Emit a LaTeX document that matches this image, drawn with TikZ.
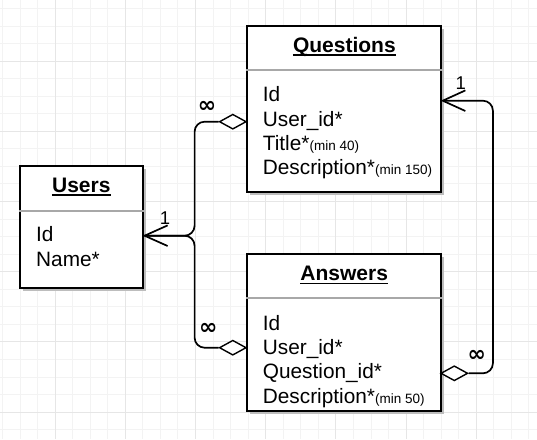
\documentclass[tikz,border=0pt]{standalone}
\usepackage{fontspec}
\setmainfont{Liberation Sans}
\newfontfamily\symfont{DejaVu Sans}
\usetikzlibrary{shapes.geometric,shadows,calc}
\definecolor{gridminor}{HTML}{F3F3F3}
\definecolor{gridmajor}{HTML}{E6E6E6}
\definecolor{shadowgray}{HTML}{BDBDBD}
\definecolor{sepgray}{HTML}{A8A8A8}
\newcommand\minitxt{\fontsize{13.5}{14}\selectfont}
\begin{document}
\begin{tikzpicture}[x=1pt,y=-1pt,
  entity/.style={draw=black, line width=1.8pt, fill=white, rectangle, inner sep=0pt,
    drop shadow={shadow xshift=3.2pt, shadow yshift=-3.2pt, fill=shadowgray, opacity=1}},
  sepline/.style={draw=sepgray, line width=1.8pt},
  titletext/.style={inner sep=0pt, anchor=base, font=\fontsize{21}{24}\selectfont\bfseries},
  fieldtext/.style={inner sep=0pt, anchor=base west, font=\fontsize{20.8}{24}\selectfont},
  uline/.style={line width=1.6pt},
  conn/.style={draw=black, line width=1.7pt},
  diam/.style={diamond, draw=black, line width=1.4pt, fill=white, inner sep=0pt, minimum width=27pt, minimum height=15pt},
  card/.style={inner sep=0pt, font=\fontsize{18.5}{20}\selectfont},
  inf/.style={inner sep=0pt, font=\symfont\bfseries\fontsize{22}{24}\selectfont}
]
\useasboundingbox (0,0) rectangle (537,439);
\fill[white] (0,0) rectangle (537,439);
\begin{scope}
\clip (0,0) rectangle (537,439);
\foreach \i in {-4,...,28} {
  \draw[gridminor, line width=0.8pt] ({55+17.55*\i},0) -- ({55+17.55*\i},439);
  \draw[gridminor, line width=0.8pt] (0,{61+17.55*\i}) -- (537,{61+17.55*\i});
}
\foreach \i in {-1,...,7} {
  \draw[gridmajor, line width=0.8pt] ({55+70.2*\i},0) -- ({55+70.2*\i},439);
  \draw[gridmajor, line width=0.8pt] (0,{61+70.2*\i}) -- (537,{61+70.2*\i});
}
\end{scope}

% entity boxes
\node[entity, minimum width=122.7pt, minimum height=122pt] (users) at (81.35,227) {};
\node[entity, minimum width=194pt, minimum height=166pt] (questions) at (343.85,109) {};
\node[entity, minimum width=193.7pt, minimum height=157pt] (answers) at (344.0,332.5) {};

% separators
\draw[sepline] (users.west |- 0,210.7) -- (users.east |- 0,210.7);
\draw[sepline] (questions.west |- 0,70) -- (questions.east |- 0,70);
\draw[sepline] (answers.west |- 0,298) -- (answers.east |- 0,298);

% titles
\node[titletext] (ut) at (81.3,192.3) {Users};
\node[titletext] (qt) at (344.4,52.3) {Questions};
\node[titletext] (at) at (344.2,280.7) {Answers};
\foreach \t in {ut,qt,at} {
  \draw[uline] ([yshift=-2.6pt]\t.base west) -- ([yshift=-2.6pt]\t.base east);
}

% fields
\node[fieldtext] (u1) at (36,241.7) {Id};
\node[fieldtext] (u2) at (36,266) {Name*};

\node[fieldtext] (q1) at (262.7,101.7) {Id};
\node[fieldtext] (q2) at (262.7,126) {User\_id*};
\node[fieldtext] (q3) at (262.7,150.3) {Title*{\minitxt(min 40)}};
\node[fieldtext] (q4) at (262.7,174.6) {Description*{\minitxt(min 150)}};

\node[fieldtext] (a1) at (262.7,330.2) {Id};
\node[fieldtext] (a2) at (262.7,354.5) {User\_id*};
\node[fieldtext] (a3) at (262.7,378.8) {Question\_id*};
\node[fieldtext] (a4) at (262.7,403.1) {Description*{\minitxt(min 50)}};

% diamonds
\node[diam] (d1) at (232.8,121.7) {};
\node[diam] (d2) at (232.8,347.7) {};
\node[diam] (d3) at (454.3,373.3) {};

% arrow tips (points on entity borders)
\coordinate (uA) at ([xshift=1pt]users.east |- 0,235.7);
\coordinate (qA) at ([xshift=1pt]questions.east |- 0,100.7);

% connectors
\draw[conn, rounded corners=10pt] (uA) -| ([xshift=-24pt]d1.west) -- (d1.west);
\draw[conn, rounded corners=10pt] (uA) -| ([xshift=-24pt]d2.west) -- (d2.west);
\draw[conn, rounded corners=10pt] (qA) -| ([xshift=24.4pt]d3.east) -- (d3.east);

% open arrow heads
\draw[conn] ($(uA)+(23,-10.3)$) -- (uA) -- ($(uA)+(23,10.3)$);
\draw[conn] ($(qA)+(22.6,-10.3)$) -- (qA) -- ($(qA)+(22.6,10.3)$);

% cardinality labels
\node[card] (c1) at (165,218.3) {1};
\node[inf] (c2) at (207,107.3) {∞};
\node[inf] (c3) at (208.3,329.3) {∞};
\node[card] (c4) at (460.7,83.3) {1};
\node[inf] (c5) at (476.7,356) {∞};
\end{tikzpicture}
\end{document}
